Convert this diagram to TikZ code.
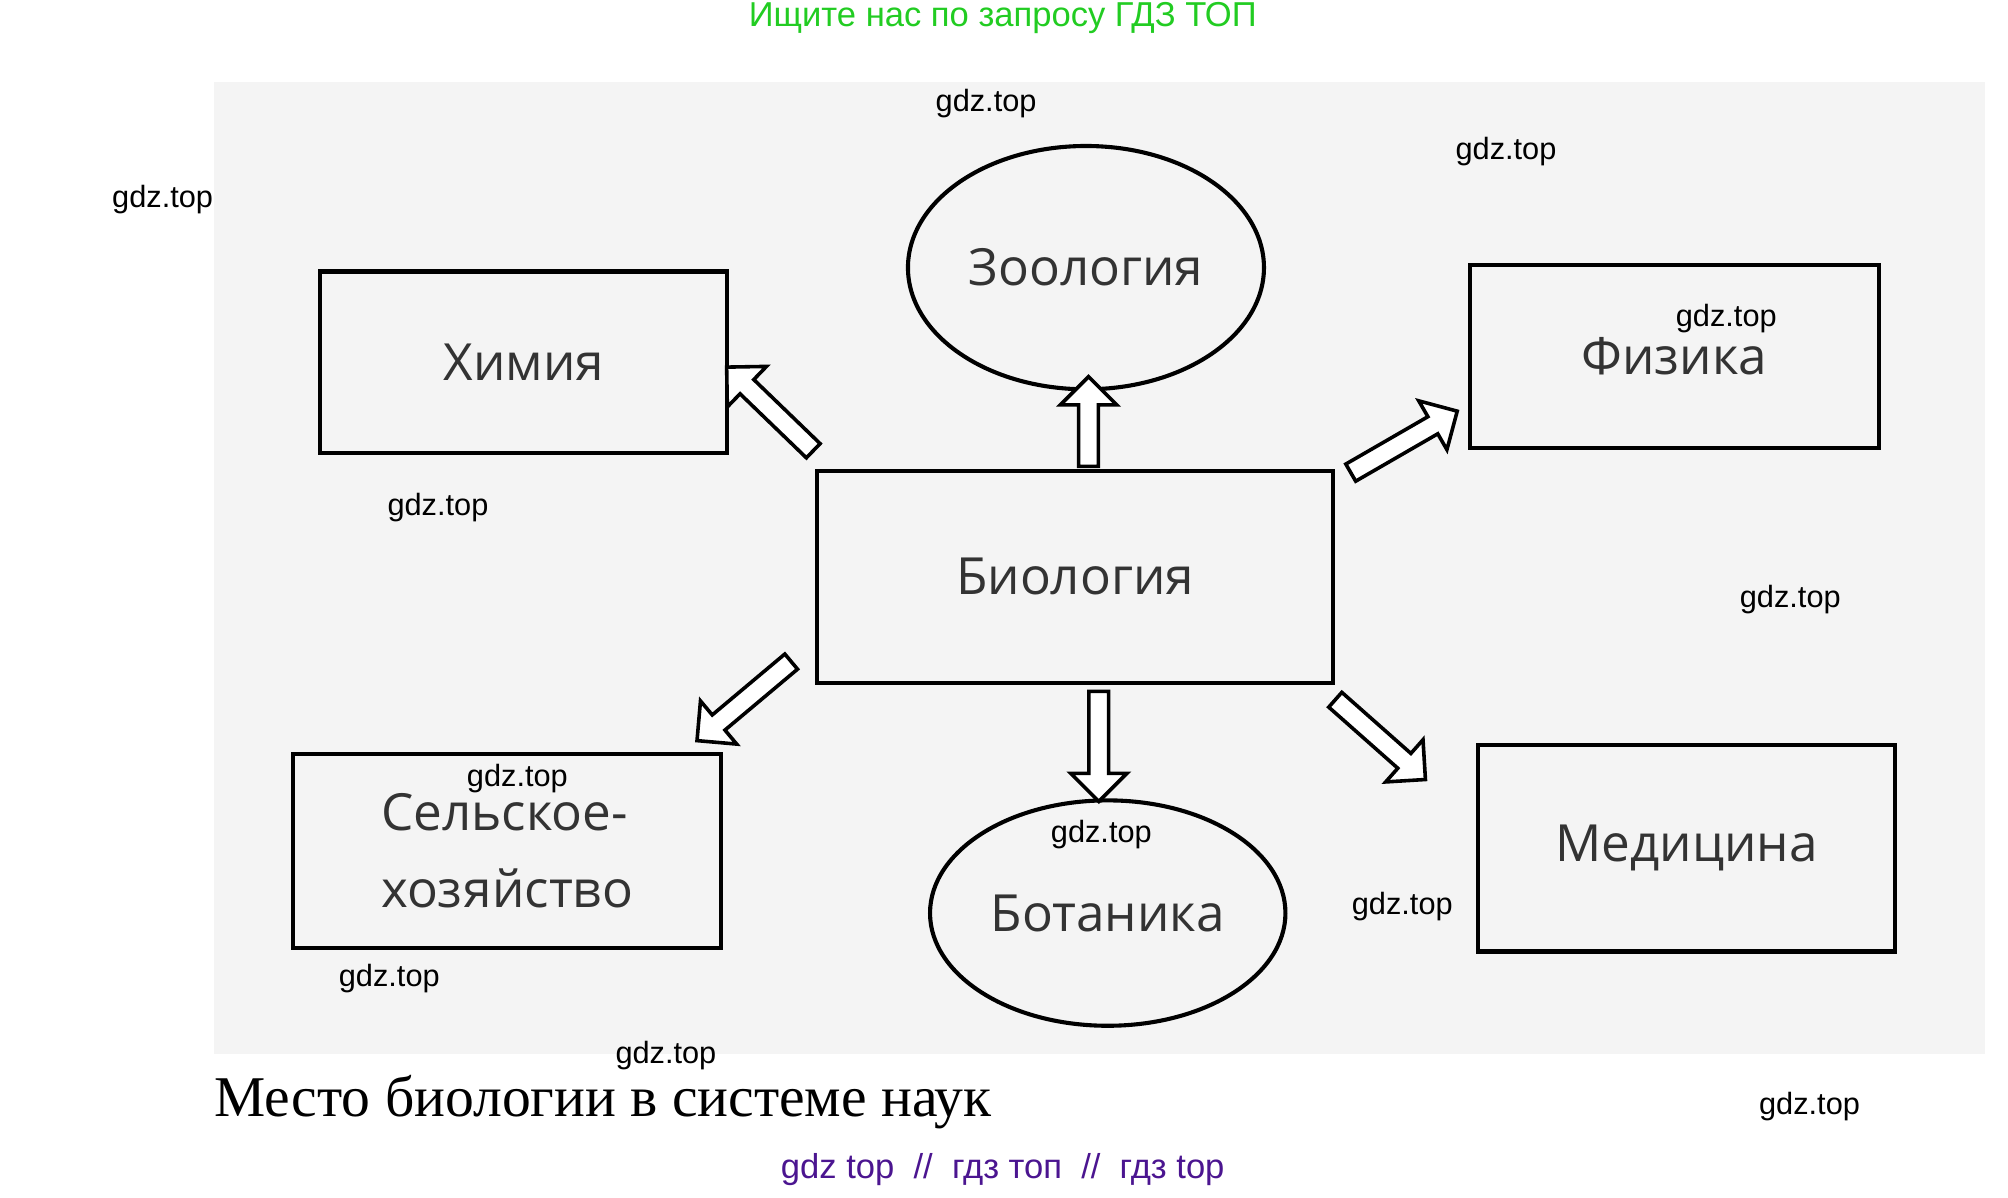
\documentclass[tikz,border=0pt]{standalone}
\usepackage{fontspec}
\setmainfont{Liberation Serif}
\newfontfamily\lab{Open Sans}
\newfontfamily\wm{Liberation Sans}
\usetikzlibrary{shapes.geometric,shapes.arrows}
\definecolor{bg}{HTML}{F4F4F4}
\definecolor{grn}{HTML}{22CC22}
\definecolor{pur}{HTML}{4B1590}
\begin{document}
\begin{tikzpicture}[x=0.5pt,y=-0.5pt,
  box/.style={draw,line width=1.6pt,fill=bg,font=\lab\fontsize{20}{30}\selectfont,text=black!80},
  oval/.style={box,ellipse},
  barr/.style={draw,line width=1.4pt,fill=white,single arrow,single arrow head extend=5pt,minimum width=22pt,inner sep=2pt,shape border rotate=0},
  wmk/.style={font=\wm\fontsize{12}{14}\selectfont,anchor=center}]
\useasboundingbox (0,0) rectangle (1568,935);
\fill[bg] (167,64) rectangle (1550,823);
\node[box,minimum width=159pt,minimum height=71pt] (him) at (409,283) {Химия};
\node[oval,minimum width=138pt,minimum height=95pt] (zoo) at (848,209) {Зоология};
\node[box,minimum width=159.5pt,minimum height=71.5pt] (fiz) at (1307.5,278.5) {Физика};
\node[box,minimum width=201.5pt,minimum height=82.5pt] (bio) at (839.5,450.5) {Биология};
\node[box,minimum width=167pt,minimum height=75.5pt,align=left] (sel) at (396,664.5) {Сельское-\\хозяйство};
\node[oval,minimum width=135pt,minimum height=88pt] (bot) at (865,713) {Ботаника};
\node[box,minimum width=163pt,minimum height=80.5pt] (med) at (1317,662.5) {Медицина};
\node[barr,minimum height=35pt,rotate=90] (a1) at (850,333) {};
\node[barr,minimum height=43pt,rotate=-90] (a2) at (858,579) {};
\node[barr,minimum height=47pt,rotate=136] (a3) at (604,322) {};
\node[barr,minimum height=48pt,rotate=30] (a4) at (1093,347) {};
\node[barr,minimum height=48pt,rotate=220] (a5) at (584,545) {};
\node[barr,minimum height=47pt,rotate=-41.5] (a6) at (1075,575) {};
\node[font=\wm\fontsize{13.5}{16}\selectfont,text=grn] (t1) at (783,14) {Ищите нас по запросу ГДЗ ТОП};
\node[anchor=base west,font=\fontsize{22.5}{26}\selectfont,inner sep=0] (t2) at (167,872) {Место биологии в системе наук};
\node[font=\wm\fontsize{13.5}{16}\selectfont,text=pur] (t3) at (783,913) {gdz top \ // \ гдз топ \ // \ гдз top};
\node[wmk] (w1) at (770,81) {gdz.top};
\node[wmk] (w2) at (1176,118) {gdz.top};
\node[wmk] (w3) at (127,156) {gdz.top};
\node[wmk] (w4) at (1348,249) {gdz.top};
\node[wmk] (w5) at (342,396) {gdz.top};
\node[wmk] (w6) at (1398,468) {gdz.top};
\node[wmk] (w7) at (404,608) {gdz.top};
\node[wmk] (w8) at (860,652) {gdz.top};
\node[wmk] (w9) at (1095,708) {gdz.top};
\node[wmk] (w10) at (304,764) {gdz.top};
\node[wmk] (w11) at (520,824) {gdz.top};
\node[wmk] (w12) at (1413,864) {gdz.top};
\end{tikzpicture}
\end{document}
